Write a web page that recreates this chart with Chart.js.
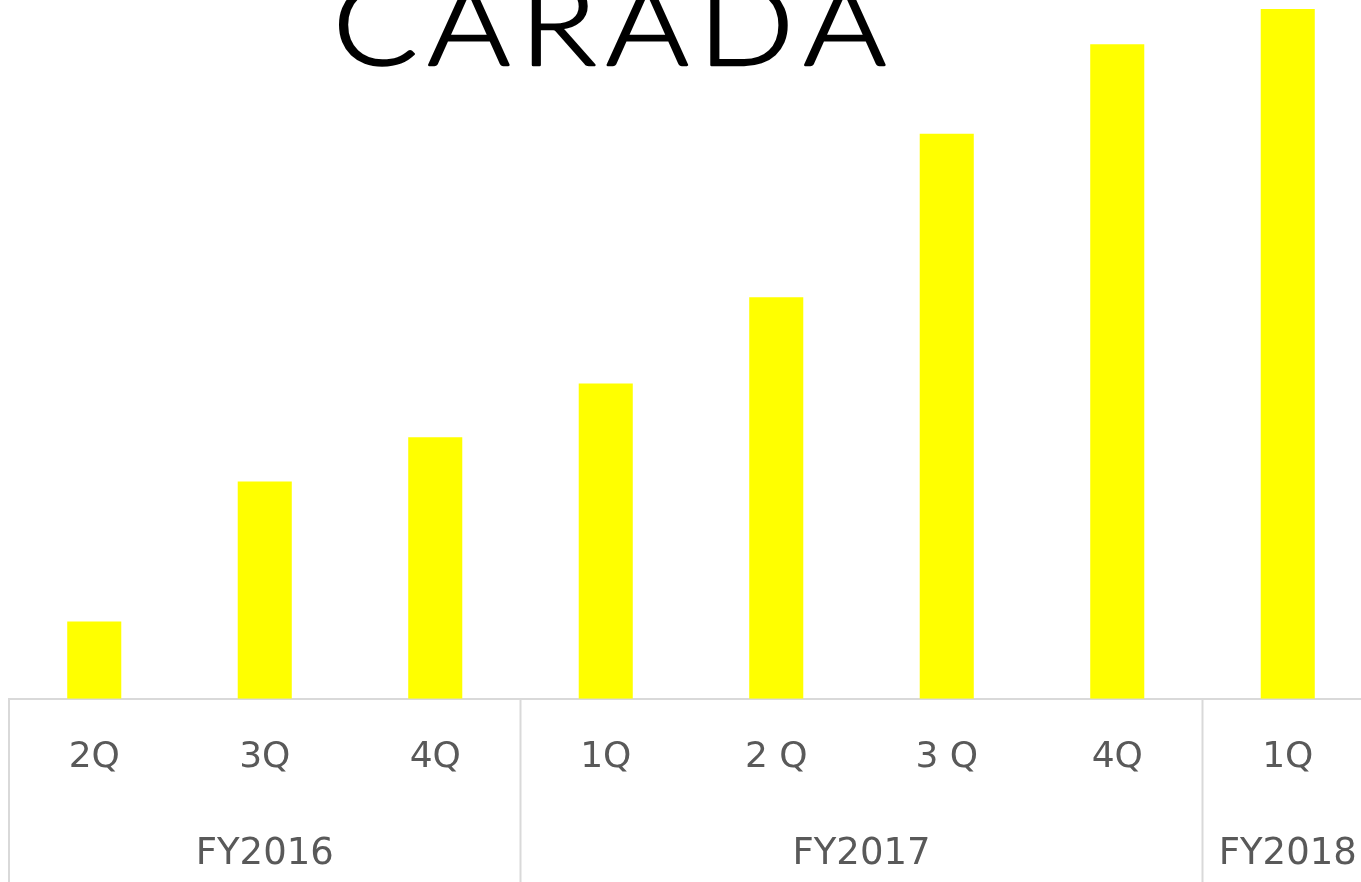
<!DOCTYPE html>
<html>
<head>
<meta charset="utf-8">
<script src="https://cdn.jsdelivr.net/npm/chart.js@4.4.1/dist/chart.umd.min.js"></script>
<style>
  html, body { margin: 0; padding: 0; background: #fff; overflow: hidden; }
  #wrap { width: 1375px; height: 882px; }
</style>
</head>
<body>
<div id="wrap"><canvas id="caradaChart" width="1375" height="882"></canvas></div>
<script>
// quarterly values (relative bar heights)
const quarters = ['2Q', '3Q', '4Q', '1Q', '2 Q', '3 Q', '4Q', '1Q'];
const values = [11.2, 31.5, 37.9, 45.7, 58.2, 81.9, 94.9, 100];
const years = ['FY2016', 'FY2017', 'FY2018'];
const yearCounts = [3, 4, 1];

const gridGray = '#d9d9d9';
const textGray = '#595959';

// title logo + fiscal-year group row under the quarters
const extras = {
    id: 'extras',
    afterDraw(chart) {
        const ctx = chart.ctx;
        const x = chart.scales.x;
        const area = chart.chartArea;
        const half = x.width / quarters.length / 2;

        ctx.save();
        ctx.strokeStyle = gridGray;
        ctx.lineWidth = 2;
        ctx.fillStyle = textGray;
        ctx.font = '37px "DejaVu Sans"';
        ctx.textAlign = 'center';
        ctx.textBaseline = 'middle';
        let start = 0;
        years.forEach((y, i) => {
            const first = start, last = start + yearCounts[i] - 1;
            const left = x.getPixelForValue(first) - half;
            ctx.beginPath();
            ctx.moveTo(left, area.bottom);
            ctx.lineTo(left, chart.height);
            ctx.stroke();
            const mid = (x.getPixelForValue(first) + x.getPixelForValue(last)) / 2;
            ctx.fillText(y, mid, area.bottom + 156);
            start += yearCounts[i];
        });
        ctx.restore();

        // logo: light Lato, widened and slightly thickened
        ctx.save();
        ctx.fillStyle = '#000';
        ctx.strokeStyle = '#000';
        ctx.lineWidth = 2.4;
        ctx.lineJoin = 'round';
        ctx.font = '300 112px Lato';
        ctx.textBaseline = 'alphabetic';
        ctx.textAlign = 'left';
        const word = 'CARADA';
        const sx = 1.12;
        const plain = ctx.measureText(word).width * sx;
        const spacing = (551 - plain) / (word.length - 1);
        let cx = 333;
        for (const ch of word) {
            ctx.save();
            ctx.translate(cx, 65);
            ctx.scale(sx, 1);
            ctx.fillText(ch, 0, 0);
            ctx.strokeText(ch, 0, 0);
            ctx.restore();
            cx += ctx.measureText(ch).width * sx + spacing;
        }
        ctx.restore();
    }
};

const ctx = document.getElementById('caradaChart').getContext('2d');
const caradaChart = new Chart(ctx, {
    type: 'bar',
    data: {
        labels: quarters,
        datasets: [{
            data: values,
            backgroundColor: '#FFFF00',
            borderWidth: 0,
            categoryPercentage: 1,
            barPercentage: 0.317
        }]
    },
    options: {
        responsive: false,
        animation: false,
        layout: {
            padding: { left: 9, right: 2, top: 0, bottom: 66 }
        },
        plugins: {
            legend: { display: false },
            title: { display: false },
            tooltip: { enabled: false }
        },
        scales: {
            x: {
                grid: { display: false, drawTicks: false },
                border: { display: true, color: gridGray, width: 2 },
                ticks: {
                    color: textGray,
                    padding: 37,
                    font: { family: 'DejaVu Sans', size: 36 },
                    maxRotation: 0,
                    autoSkip: false
                }
            },
            y: {
                display: false,
                min: 0,
                max: 101.3
            }
        }
    },
    plugins: [extras]
});
</script>
</body>
</html>
